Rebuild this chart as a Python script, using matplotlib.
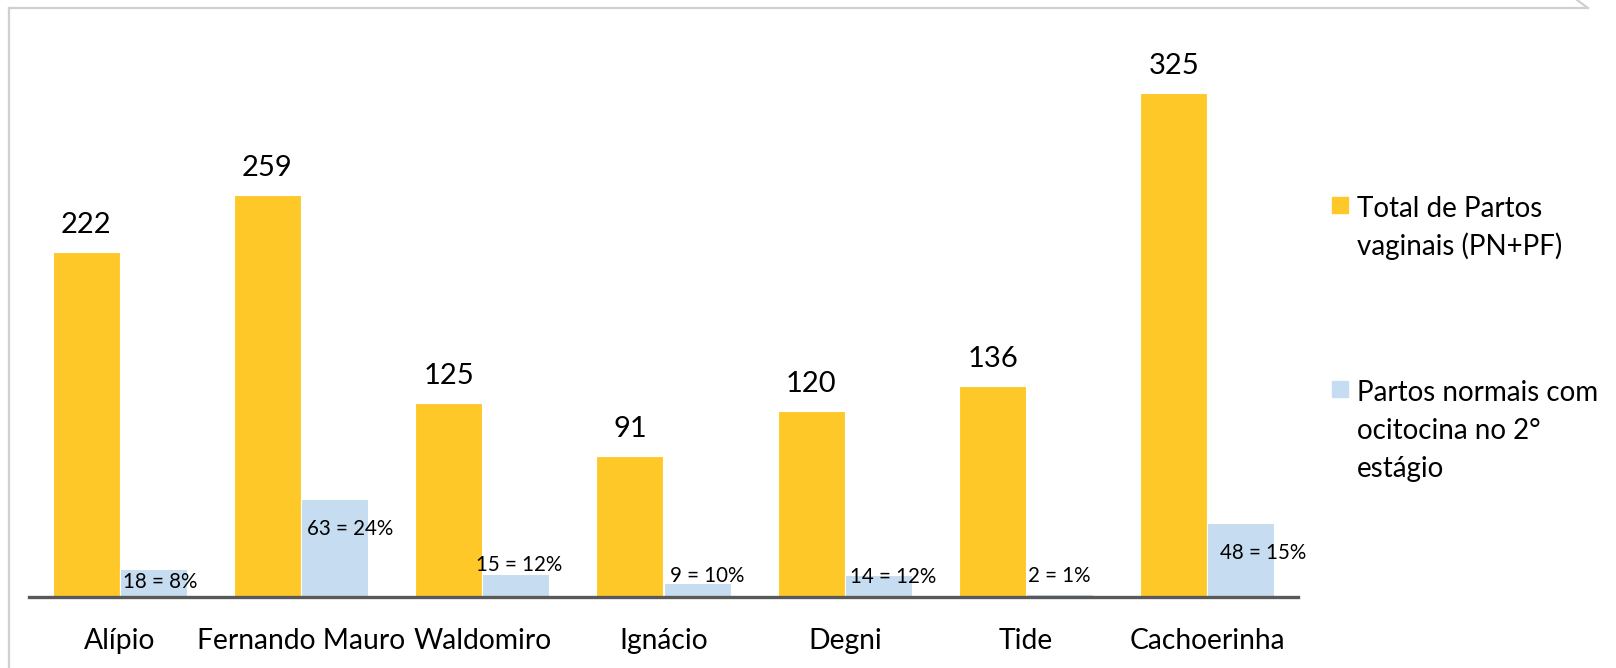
import matplotlib
matplotlib.use("Agg")
import matplotlib.pyplot as plt
from matplotlib.lines import Line2D
from matplotlib.patches import Rectangle

# Hospital units and delivery counts
units = ["Alípio", "Fernando Mauro", "Waldomiro", "Ignácio", "Degni", "Tide", "Cachoerinha"]
total_vaginal = [222, 259, 125, 91, 120, 136, 325]
oxytocin_2nd_stage = [18, 63, 15, 9, 14, 2, 48]
series_names = ["Total de Partos\nvaginais (PN+PF)", "Partos normais com\nocitocina no 2°\nestágio"]

YELLOW = "#FFC829"
BLUE = "#C6DCF0"
FONT = ["Lato", "DejaVu Sans"]

# hand placement of the small labels: (x shift in px, baseline height in data units)
small_label_pos = [(7, 5.8), (16, 39.9), (3, 16.8), (10, 9.7), (15, 9.0), (0, 9.7), (22, 24.5)]

plt.rcParams["font.family"] = FONT

W, H, DPI = 1616, 668, 100
PX = 72 / DPI  # points per pixel
fig = plt.figure(figsize=(W / DPI, H / DPI), dpi=DPI)
ax = fig.add_axes([29 / W, 71 / H, 1269 / W, 543.2 / H])

x = list(range(len(units)))
bw = 0.3696
yb = ax.bar([i - bw / 2 for i in x], total_vaginal, bw, color=YELLOW, edgecolor="white", linewidth=0.8)
bb = ax.bar([i + bw / 2 for i in x], oxytocin_2nd_stage, bw, color=BLUE, edgecolor="white", linewidth=0.8)

for rect, v in zip(yb, total_vaginal):
    ax.annotate(str(v), (rect.get_x() + rect.get_width() / 2, v), xytext=(0, 19 * PX),
                textcoords="offset points", ha="center", va="baseline", fontsize=21)

for rect, n, tot, (dx, yb_) in zip(bb, oxytocin_2nd_stage, total_vaginal, small_label_pos):
    pct = round(100 * n / tot)
    ax.annotate(f"{n} = {pct}%", (rect.get_x() + rect.get_width() / 2, yb_), xytext=(dx * PX, 0),
                textcoords="offset points", ha="center", va="baseline", fontsize=14.8)

ax.set_xlim(-0.5, len(units) - 0.5)
ax.set_ylim(0, 350)
ax.set_xticks(x)
ax.set_xticklabels(units, fontsize=20.3)
ax.tick_params(axis="x", length=0, pad=22.5)
ax.set_yticks([])
for s in ["top", "right", "left"]:
    ax.spines[s].set_visible(False)
ax.spines["bottom"].set_color("#595959")
ax.spines["bottom"].set_linewidth(2.4)

# legend drawn by hand: square key next to the first line of each multi-line entry
for color, name, ytop in zip([YELLOW, BLUE], series_names, [197, 381]):
    fig.patches.append(Rectangle((1332 / W, 1 - (ytop + 16) / H), 16 / W, 16 / H,
                                 transform=fig.transFigure, color=color))
    for k, line in enumerate(name.split("\n")):
        base = ytop + 20 + 38 * k
        fig.text(1357 / W, 1 - base / H, line, ha="left", va="baseline", fontsize=20)

# frame line around the chart area
fig.add_artist(Line2D([9 / W, 9 / W], [0, 1 - 8 / H], color="#d0d0d0", lw=1.6))
fig.add_artist(Line2D([9 / W, 1586 / W], [1 - 8 / H, 1 - 8 / H], color="#d0d0d0", lw=1.6))
fig.add_artist(Line2D([1577 / W, 1588 / W], [1, 1 - 8 / H], color="#d0d0d0", lw=1.6))

fig.savefig("out.png", dpi=DPI)
